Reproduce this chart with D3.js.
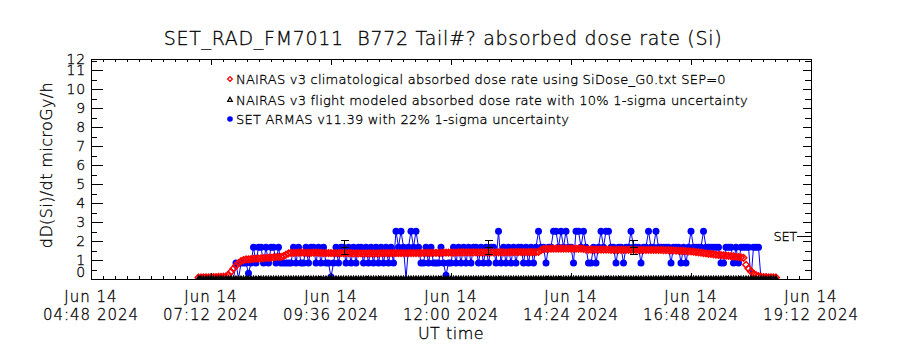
<!DOCTYPE html>
<html>
<head>
<meta charset="utf-8">
<script src="https://cdn.jsdelivr.net/npm/d3@7"></script>
<style>
  html, body { margin: 0; padding: 0; background: #fff; }
  svg { display: block; font-family: "DejaVu Sans", sans-serif; font-weight: 200; }
  svg text { fill: #000; stroke: #000; stroke-width: 0.3px; }
</style>
</head>
<body>
<svg id="chart" width="900" height="350"></svg>
<script>
// ---------------- text ----------------
const chartTitle = "SET_RAD_FM7011  B772 Tail#? absorbed dose rate (Si)";
const yAxisTitle = "dD(Si)/dt microGy/h";
const xAxisTitle = "UT time";
const legendLabels = [
  "NAIRAS v3 climatological absorbed dose rate using SiDose_G0.txt SEP=0",
  "NAIRAS v3 flight modeled absorbed dose rate with 10% 1-sigma uncertainty",
  "SET ARMAS v11.39 with 22% 1-sigma uncertainty"
];
const seriesTag = "SET";

// ---------------- axes ----------------
const xDomain = ["2024-06-14T04:48:00Z", "2024-06-14T19:12:00Z"];
const xTickTimes = [
  "2024-06-14T04:48:00Z", "2024-06-14T07:12:00Z", "2024-06-14T09:36:00Z",
  "2024-06-14T12:00:00Z", "2024-06-14T14:24:00Z", "2024-06-14T16:48:00Z",
  "2024-06-14T19:12:00Z"
];
const yDomain = [0, 11.6];
const yTickValues = [0, 1, 2, 3, 4, 5, 6, 7, 8, 9, 10, 11, 12];

// ---------------- NAIRAS climatological dose rate (3-min samples) ----------------
const climStart = "2024-06-14T06:57:00Z";
const climStepMin = 3;
const climDose = [
  0.08,0.08,0.09,0.09,0.09,0.10,0.10,0.10,0.11,0.11,0.12,0.14,
  0.22,0.38,0.55,0.70,0.84,0.94,1.00,1.03,
  1.04,1.05,1.06,1.07,1.08,1.09,1.10,1.11,1.12,1.13,1.14,1.15,1.16,1.17,
  1.20,1.28,1.35,1.38,
  1.38,1.38,1.39,1.39,1.39,1.38,1.38,1.38,1.39,1.39,
  1.38,1.38,1.37,1.37,1.37,1.37,1.36,1.36,1.36,1.36,
  1.36,1.36,1.36,1.36,1.35,1.35,1.35,1.35,1.35,1.35,
  1.35,1.35,1.35,1.35,1.35,1.36,1.36,1.36,1.36,1.36,
  1.36,1.36,1.36,1.37,1.37,1.37,1.37,1.37,1.37,1.37,
  1.37,1.37,1.38,1.38,1.38,1.38,1.38,1.38,1.38,1.38,
  1.39,1.39,1.39,1.39,1.39,1.39,1.40,1.40,1.40,1.40,
  1.40,1.40,1.40,1.40,1.40,1.41,1.41,1.41,1.41,1.41,
  1.41,1.41,1.41,1.41,1.41,1.41,1.41,1.42,1.42,1.42,
  1.42,1.42,1.42,1.42,1.42,1.42,1.42,1.42,1.43,
  1.52,1.58,1.59,1.59,1.60,1.60,1.60,1.60,1.60,1.60,1.60,1.60,1.60,1.60,1.60,1.60,1.60,1.59,
  1.55,1.55,1.55,1.55,1.55,1.55,1.55,1.55,1.55,1.55,
  1.54,1.54,1.54,1.54,1.54,1.54,1.54,1.54,1.54,1.54,
  1.53,1.53,1.53,1.53,1.53,1.53,1.53,1.53,1.53,
  1.53,1.53,1.52,1.52,1.52,1.51,1.51,1.50,1.49,1.48,
  1.48,1.47,1.46,1.45,1.44,1.42,1.40,1.39,1.37,1.35,
  1.33,1.32,1.30,1.28,1.27,1.26,1.25,1.23,1.22,1.20,
  1.19,1.17,1.16,1.14,1.12,
  0.75,0.55,0.40,0.28,0.20,0.15,0.12,0.10,0.10,0.09,0.09,0.08,0.08
];

// ---------------- NAIRAS flight modeled dose rate (3-min samples) ----------------
const flightStart = "2024-06-14T06:57:00Z";
const flightStepMin = 3;
const flightDose = [
  0,0,0,0,0,0,0,0,0,0,0,0,0,0,0,0,0,0,0,0,
  0,0,0,0,0,0,0,0,0,0,0,0,0,0,0,0,0,0,0,0,
  0,0,0,0,0,0,0,0,0,0,0,0,0,0,0,0,0,0,0,0,
  0,0,0,0,0,0,0,0,0,0,0,0,0,0,0,0,0,0,0,0,
  0,0,0,0,0,0,0,0,0,0,0,0,0,0,0,0,0,0,0,0,
  0,0,0,0,0,0,0,0,0,0,0,0,0,0,0,0,0,0,0,0,
  0,0,0,0,0,0,0,0,0,0,0,0,0,0,0,0,0,0,0,0,
  0,0,0,0,0,0,0,0,0,0,0,0,0,0,0,0,0,0,0,0,
  0,0,0,0,0,0,0,0,0,0,0,0,0,0,0,0,0,0,0,0,
  0,0,0,0,0,0,0,0,0,0,0,0,0,0,0,0,0,0,0,0,
  0,0,0,0,0,0,0,0,0,0,0,0,0,0,0,0,0,0,0,0,
  0,0,0,0,0,0,0,0,0,0,0,0
];

// ---------------- SET ARMAS measured dose rate (3-min samples) ----------------
const armasStart = "2024-06-14T07:36:00Z";
const armasStepMin = 3;
const armasDose = [
  0,0,0.84,0,0.84,0.84,0.84,0.3,0.84,1.68,
  0.84,1.68,1.68,0.84,1.68,0.84,1.68,1.68,0.84,1.68,
  0.84,0.84,0.84,0.84,0.84,1.68,0.84,1.68,0.84,0.84,
  1.68,0.84,1.68,1.68,0.84,1.68,0.84,1.68,0.84,0.84,
  0.1,0.84,1.68,0.84,1.68,1.68,0.84,1.68,0.84,1.68,
  0.84,1.68,1.68,0.84,1.68,0.84,1.68,0.84,1.68,0.84,
  1.68,0.84,1.68,0.84,1.68,0.84,2.52,1.68,2.52,1.68,
  0,1.68,2.52,1.68,2.52,1.68,0.84,0.84,1.68,0.84,
  1.68,0.84,0.84,0.84,1.68,0.84,0.2,0.84,0.84,1.68,
  0.84,1.68,0.84,1.68,0.84,1.68,0.84,1.68,1.68,0.84,
  1.68,0.84,1.68,0.84,1.68,1.68,0.84,2.52,0.84,1.68,
  0.84,1.68,0.84,1.68,0.84,1.68,1.68,0.84,1.68,0.84,
  1.68,0.84,1.68,2.52,1.68,1.68,0.84,1.68,1.68,2.52,
  2.52,1.68,2.52,1.68,2.52,1.68,1.68,0.84,2.52,2.52,
  1.68,2.52,1.68,0.84,0.84,1.68,0.84,1.68,2.52,1.68,
  2.52,2.52,1.68,1.68,0.84,1.68,1.68,0.84,1.68,1.68,
  2.52,1.68,1.68,1.68,0.84,1.68,1.68,2.52,1.68,1.68,
  2.52,1.68,1.68,1.68,1.68,1.68,0.84,1.68,1.68,1.68,
  0.84,1.68,0.84,1.68,2.52,1.68,1.68,1.68,1.68,2.52,
  1.68,1.68,1.68,1.68,1.68,1.68,0.84,0.84,1.68,1.68,
  1.68,0.84,1.68,0.84,1.68,1.68,1.68,1.68,0,1.68,
  1.68,1.68,0
];

// SET ARMAS samples shown with their 1-sigma uncertainty bars
const errTimes = ["2024-06-14T09:52:00Z", "2024-06-14T12:44:00Z", "2024-06-14T15:38:00Z"];
const errDose = [1.66, 1.66, 1.66];
const armasSigma = 0.22;

// ---------------- layout ----------------
const plot = { left: 91, right: 811, top: 59, bottom: 279 };
const font = "DejaVu Sans";

const svg = d3.select("#chart");

const x = d3.scaleUtc()
  .domain(xDomain.map(d => new Date(d)))
  .range([plot.left, plot.right]);
const y = d3.scaleLinear()
  .domain(yDomain)
  .range([plot.bottom, plot.top]);

// timestamps for a regularly sampled record
const sampled = (start, stepMin, values) => {
  const t0 = new Date(start);
  return values.map((v, i) => ({ t: d3.utcMinute.offset(t0, i * stepMin), v }));
};
const climData = sampled(climStart, climStepMin, climDose);
const flightData = sampled(flightStart, flightStepMin, flightDose);
const armasData = sampled(armasStart, armasStepMin, armasDose);
const errData = errTimes.map((t, i) => ({ t: new Date(t), v: errDose[i] }));

// ---------------- clip ----------------
svg.append("defs").append("clipPath").attr("id", "plotClip")
  .append("rect")
  .attr("x", plot.left).attr("y", plot.top)
  .attr("width", plot.right - plot.left).attr("height", plot.bottom - plot.top);

const dataG = svg.append("g").attr("clip-path", "url(#plotClip)");

// SET ARMAS: connected filled circles
dataG.append("path")
  .datum(armasData)
  .attr("fill", "none")
  .attr("stroke", "#0000ff")
  .attr("stroke-width", 1)
  .attr("d", d3.line().x(d => x(d.t)).y(d => y(d.v)));
dataG.append("g").selectAll("circle")
  .data(armasData.filter(d => d.v > 0))
  .join("circle")
  .attr("cx", d => x(d.t))
  .attr("cy", d => y(d.v))
  .attr("r", 3.5)
  .attr("fill", "#0000ff");

// NAIRAS climatological: open diamonds
const diamond = d3.symbol().type(d3.symbolDiamond2).size(28);
dataG.append("g").selectAll("path")
  .data(climData)
  .join("path")
  .attr("d", diamond)
  .attr("transform", d => `translate(${x(d.t)},${y(d.v)})`)
  .attr("fill", "none")
  .attr("stroke", "#ff0000")
  .attr("stroke-width", 1.5);

// NAIRAS flight modeled: triangles packed along the zero line
const triangle = d3.symbol().type(d3.symbolTriangle2).size(20);
dataG.append("g").selectAll("path")
  .data(flightData)
  .join("path")
  .attr("d", triangle)
  .attr("transform", d => `translate(${x(d.t)},${y(d.v)})`)
  .attr("fill", "#000")
  .attr("stroke", "#000")
  .attr("stroke-width", 1.2);

// uncertainty bars
const eb = dataG.append("g").attr("stroke", "#000").attr("stroke-width", 1.2)
  .attr("shape-rendering", "crispEdges");
errData.forEach(d => {
  const cx = Math.round(x(d.t)) + 0.5;
  const lo = y(d.v * (1 - armasSigma)), hi = y(d.v * (1 + armasSigma)), mid = y(d.v);
  eb.append("line").attr("x1", cx).attr("x2", cx).attr("y1", lo).attr("y2", hi);
  [lo, hi, mid].forEach(yy => eb.append("line")
    .attr("x1", cx - 4).attr("x2", cx + 4).attr("y1", yy).attr("y2", yy));
});

// ---------------- axes (box with inward ticks) ----------------
const majorX = xTickTimes.map(d => new Date(d));
const minorX = [];
for (let i = 0; i < majorX.length - 1; i++) {
  const a = +majorX[i], b = +majorX[i + 1];
  for (let k = 1; k < 10; k++) minorX.push(new Date(a + (b - a) * k / 10));
}
const majorY = d3.range(0, 12, 1);
const minorY = d3.range(0.5, 11.6, 1);

function styleAxis(g) {
  g.selectAll("text").remove();
  g.selectAll("path.domain").attr("stroke", "#000");
  g.selectAll(".tick line").attr("stroke", "#000");
  g.attr("shape-rendering", "crispEdges");
}

const axisG = svg.append("g");
axisG.append("g").attr("transform", `translate(0,${plot.bottom})`)
  .call(d3.axisBottom(x).tickValues(majorX).tickSize(-6).tickSizeOuter(0).tickFormat(() => "")).call(styleAxis);
axisG.append("g").attr("transform", `translate(0,${plot.bottom})`)
  .call(d3.axisBottom(x).tickValues(minorX).tickSize(-3).tickSizeOuter(0).tickFormat(() => "")).call(styleAxis);
axisG.append("g").attr("transform", `translate(0,${plot.top})`)
  .call(d3.axisTop(x).tickValues(majorX).tickSize(-6).tickSizeOuter(0).tickFormat(() => "")).call(styleAxis);
axisG.append("g").attr("transform", `translate(0,${plot.top})`)
  .call(d3.axisTop(x).tickValues(minorX).tickSize(-3).tickSizeOuter(0).tickFormat(() => "")).call(styleAxis);
axisG.append("g").attr("transform", `translate(${plot.left},0)`)
  .call(d3.axisLeft(y).tickValues(majorY).tickSize(-12).tickSizeOuter(0).tickFormat(() => "")).call(styleAxis);
axisG.append("g").attr("transform", `translate(${plot.left},0)`)
  .call(d3.axisLeft(y).tickValues(minorY).tickSize(-6).tickSizeOuter(0).tickFormat(() => "")).call(styleAxis);
axisG.append("g").attr("transform", `translate(${plot.right},0)`)
  .call(d3.axisRight(y).tickValues(majorY).tickSize(-8).tickSizeOuter(0).tickFormat(() => "")).call(styleAxis);
axisG.append("g").attr("transform", `translate(${plot.right},0)`)
  .call(d3.axisRight(y).tickValues(minorY).tickSize(-6).tickSizeOuter(0).tickFormat(() => "")).call(styleAxis);

// ---------------- tick labels ----------------
const fmtDay = d3.utcFormat("%b %d");
const fmtTime = d3.utcFormat("%H:%M %Y");
const xl = svg.append("g").attr("font-family", font).attr("font-size", 15)
  .attr("letter-spacing", 1)
  .attr("text-anchor", "middle");
majorX.forEach(t => {
  xl.append("text").attr("x", x(t)).attr("y", 302).text(fmtDay(t));
  xl.append("text").attr("x", x(t)).attr("y", 320).text(fmtTime(t));
});

const yl = svg.append("g").attr("font-family", font).attr("font-size", 14)
  .attr("letter-spacing", 0.8)
  .attr("text-anchor", "end");
yTickValues.forEach(v => {
  const yy = Math.max(plot.top, Math.min(plot.bottom - 7, y(v)));
  yl.append("text").attr("x", 86).attr("y", yy).attr("dy", "0.36em").text(v);
});

// ---------------- titles ----------------
svg.append("text")
  .attr("x", 443).attr("y", 45)
  .attr("text-anchor", "middle")
  .attr("font-family", font).attr("font-size", 19)
  .attr("letter-spacing", 0.7)
  .style("white-space", "pre")
  .text(chartTitle);

svg.append("text")
  .attr("transform", `translate(52,${(plot.top + plot.bottom) / 2 - 4}) rotate(-90)`)
  .attr("text-anchor", "middle")
  .attr("font-family", font).attr("font-size", 16)
  .attr("letter-spacing", 0.4)
  .text(yAxisTitle);

svg.append("text")
  .attr("x", (plot.left + plot.right) / 2).attr("y", 339)
  .attr("text-anchor", "middle")
  .attr("font-family", font).attr("font-size", 16)
  .attr("letter-spacing", 0.5)
  .text(xAxisTitle);

// series tag at the right edge
svg.append("text")
  .attr("x", 797).attr("y", 241)
  .attr("text-anchor", "end")
  .attr("font-family", font).attr("font-size", 13)
  .attr("letter-spacing", -0.3)
  .text(seriesTag);
svg.append("line")
  .attr("x1", 797).attr("x2", plot.right).attr("y1", 236.5).attr("y2", 236.5)
  .attr("stroke", "#000").attr("shape-rendering", "crispEdges");

// ---------------- legend ----------------
const legY = [79, 100, 119];
const lg = svg.append("g").attr("font-family", font).attr("font-size", 13)
  .attr("letter-spacing", 0.22);
lg.append("path").attr("d", d3.symbol().type(d3.symbolDiamond2).size(14)())
  .attr("transform", `translate(230,${legY[0]})`)
  .attr("fill", "none").attr("stroke", "#ff0000").attr("stroke-width", 1.3);
lg.append("path").attr("d", d3.symbol().type(d3.symbolTriangle2).size(16)())
  .attr("transform", `translate(230,${legY[1]})`)
  .attr("fill", "none").attr("stroke", "#000").attr("stroke-width", 1.2);
lg.append("circle").attr("cx", 230).attr("cy", legY[2]).attr("r", 2.8).attr("fill", "#0000ff");
legendLabels.forEach((s, i) => {
  lg.append("text").attr("x", 236).attr("y", legY[i]).attr("dy", "0.36em").text(s);
});
</script>
</body>
</html>
